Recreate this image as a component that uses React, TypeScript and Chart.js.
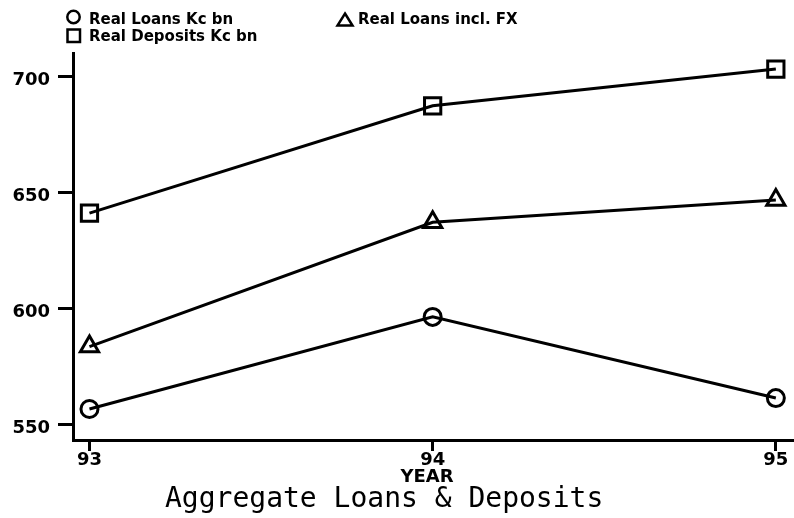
import React, { useEffect, useRef } from "react";
import { Chart, registerables } from "chart.js";

Chart.register(...registerables);

const years = [93, 94, 95];
const realLoansKc = [556.9, 596.6, 561.6];
const realLoansFx = [583.8, 637.4, 647.0];
const realDepositsKc = [641.3, 687.6, 703.4];
const yTickValues = [550, 600, 650, 700];
const xTickValues = [93, 94, 95];
const legendLabels = ["Real Loans Kc bn", "Real Loans incl. FX", "Real Deposits Kc bn"];
const xAxisTitle = "YEAR";
const chartTitle = "Aggregate Loans & Deposits";

const MONO = '"DejaVu Sans Mono", "Liberation Mono", monospace';
const SANS = '"DejaVu Sans", "Liberation Sans", sans-serif';

const textPlugin = {
  id: "stataText",
  afterDraw(chart: any) {
    const ctx = chart.ctx as CanvasRenderingContext2D;
    ctx.save();
    ctx.strokeStyle = "#000";
    ctx.fillStyle = "#000";
    ctx.lineWidth = 2.5;
    // legend markers
    ctx.beginPath();
    ctx.arc(73.5, 17, 6.2, 0, Math.PI * 2);
    ctx.stroke();
    ctx.strokeRect(67.5, 29.5, 12.5, 12.5);
    ctx.beginPath();
    ctx.moveTo(345, 13.5);
    ctx.lineTo(352.5, 25.5);
    ctx.lineTo(337.5, 25.5);
    ctx.closePath();
    ctx.stroke();
    ctx.font = `bold 15px ${SANS}`;
    ctx.textAlign = "left";
    ctx.textBaseline = "alphabetic";
    ctx.fillText(legendLabels[0], 89, 23.5);
    ctx.fillText(legendLabels[1], 358, 23.5);
    ctx.fillText(legendLabels[2], 89, 41);
    // axis title
    ctx.font = `bold 18px ${SANS}`;
    ctx.textAlign = "center";
    ctx.fillText(xAxisTitle, 427, 482);
    // chart title
    ctx.font = `28px ${MONO}`;
    ctx.textAlign = "left";
    ctx.fillText(chartTitle, 165, 507);
    ctx.restore();
  },
};

export default function App() {
  const ref = useRef<HTMLCanvasElement>(null);
  useEffect(() => {
    if (!ref.current) return;
    const mk = (data: number[], style: string, r: number) => ({
      data: years.map((x, i) => ({ x, y: data[i] })),
      borderColor: "#000",
      borderWidth: 3,
      pointStyle: style,
      pointRadius: r,
      pointBorderWidth: 3,
      pointBorderColor: "#000",
      pointBackgroundColor: "rgba(0,0,0,0)",
      tension: 0,
      clip: false,
    });
    const chart = new Chart(ref.current, {
      type: "line",
      data: {
        datasets: [
          mk(realLoansKc, "circle", 8.5),
          mk(realLoansFx, "triangle", 10.5),
          mk(realDepositsKc, "rect", 11.5),
        ] as any,
      },
      options: {
        responsive: false,
        animation: false,
        events: [],
        layout: { autoPadding: false, padding: { top: 53, right: 1, left: 0, bottom: 0 } },
        plugins: { legend: { display: false }, tooltip: { enabled: false }, title: { display: false } },
        scales: {
          x: {
            type: "linear",
            min: 92.952,
            max: 95.05,
            afterBuildTicks: (s: any) => {
              s.ticks = xTickValues.map((v) => ({ value: v }));
            },
            afterFit: (s: any) => {
              s.height = 78;
            },
            border: { display: true, color: "#000", width: 3 },
            grid: { display: true, drawOnChartArea: false, drawTicks: true, tickLength: 11, color: "#000", lineWidth: 3 },
            ticks: {
              color: "#000",
              padding: -1,
              maxRotation: 0,
              autoSkip: false,
              font: { family: SANS, size: 18, weight: "bold" },
              callback: (v: any) => String(v),
            },
          },
          y: {
            type: "linear",
            min: 543.53,
            max: 710.34,
            afterBuildTicks: (s: any) => {
              s.ticks = yTickValues.map((v) => ({ value: v }));
            },
            afterFit: (s: any) => {
              s.width = 73;
            },
            border: { display: true, color: "#000", width: 3 },
            grid: { display: true, drawOnChartArea: false, drawTicks: true, tickLength: 15, color: "#000", lineWidth: 3 },
            ticks: {
              color: "#000",
              padding: 8,
              labelOffset: 3,
              autoSkip: false,
              font: { family: SANS, size: 18, weight: "bold" },
              callback: (v: any) => String(v),
            },
          },
        },
      } as any,
      plugins: [textPlugin],
    });
    return () => chart.destroy();
  }, []);
  return (
    <div style={{ position: "fixed", left: 0, top: 0, width: 794, height: 518, background: "#fff" }}>
      <canvas ref={ref} width={794} height={518} style={{ width: 794, height: 518, display: "block" }} />
    </div>
  );
}
